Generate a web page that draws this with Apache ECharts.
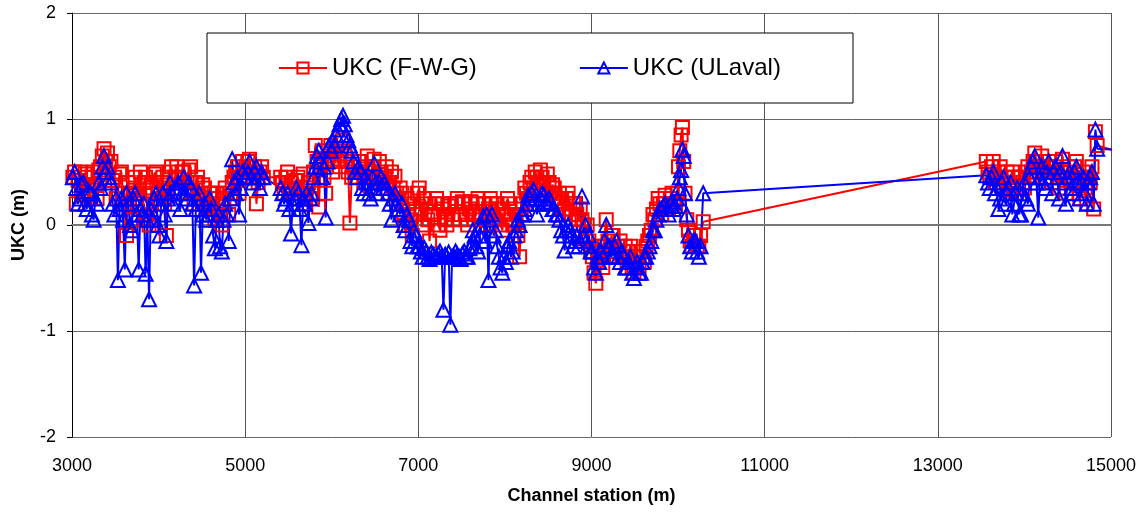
<!DOCTYPE html>
<html>
<head>
<meta charset="utf-8">
<script src="https://cdn.jsdelivr.net/npm/echarts@6/dist/echarts.min.js"></script>
<style>
html,body{margin:0;padding:0;background:#fff;}
#container{width:1146px;height:512px;}
</style>
</head>
<body>
<div id="container"></div>
<script>
// channel stations (m)
var stations = [
    3010,3030,3050,3070,3090,3110,3130,3150,3170,3190,3210,3230,3250,3270,3290,3310,3330,3350,3370,3390,
    3410,3430,3450,3470,3490,3510,3530,3550,3570,3590,3610,3630,3650,3670,3690,3710,3730,3750,3770,3790,
    3810,3830,3850,3870,3890,3910,3930,3950,3970,3990,4010,4030,4050,4070,4090,4110,4130,4150,4170,4190,
    4210,4230,4250,4270,4290,4310,4330,4350,4370,4390,4410,4430,4450,4470,4490,4510,4530,4550,4570,4590,
    4610,4630,4650,4670,4690,4710,4730,4750,4770,4790,4810,4830,4850,4870,4890,4910,4930,4950,4970,4990,
    5010,5030,5050,5070,5090,5110,5130,5150,5170,5190,5210,
    5410,5430,5450,5470,5490,5510,5530,5550,5570,5590,5610,5630,5650,5670,5690,5710,5730,5750,5770,5790,
    5810,5830,5850,5870,5890,5910,5930,5950,5970,5990,6010,6030,6050,6070,6090,6110,6130,6150,6170,6190,
    6210,6230,6250,6270,6290,6310,6330,6350,6370,6390,6410,6430,6450,6470,6490,6510,6530,6550,6570,6590,
    6610,6630,6650,6670,6690,6710,6730,6750,6770,6790,6810,6830,6850,6870,6890,6910,6930,6950,6970,6990,
    7010,7030,7050,7070,7090,7110,7130,7150,7170,7190,7210,7230,7250,7270,7290,7310,7330,7350,7370,7390,
    7410,7430,7450,7470,7490,7510,7530,7550,7570,7590,7610,7630,7650,7670,7690,7710,7730,7750,7770,7790,
    7810,7830,7850,7870,7890,7910,7930,7950,7970,7990,8010,8030,8050,8070,8090,8110,8130,8150,8170,8190,
    8210,8230,8250,8270,8290,8310,8330,8350,8370,8390,8410,8430,8450,8470,8490,8510,8530,8550,8570,8590,
    8610,8630,8650,8670,8690,8710,8730,8750,8770,8790,8810,8830,8850,8870,8890,8910,8930,8950,8970,8990,
    9010,9030,9050,9070,9090,9110,9130,9150,9170,9190,9210,9230,9250,9270,9290,9310,9330,9350,9370,9390,
    9410,9430,9450,9470,9490,9510,9530,9550,9570,9590,9610,9630,9650,9670,9690,9710,9730,9750,9770,9790,
    9810,9830,9850,9870,9890,9910,9930,9950,9970,9990,10005,10020,10035,10050,10065,10080,10100,10120,10140,10160,
    10180,10200,10220,10240,10260,10290,
    13560,13580,13600,13620,13640,13660,13680,13700,13720,13740,13760,13780,13800,13820,13840,13860,13880,13900,13920,13940,
    13960,13980,14000,14020,14040,14060,14080,14100,14120,14140,14160,14180,14200,14220,14240,14260,14280,14300,14320,14340,
    14360,14380,14400,14420,14440,14460,14480,14500,14520,14540,14560,14580,14600,14620,14640,14660,14680,14700,14720,14740,
    14760,14780,14800,14820,14840,15090
];

// UKC (F-W-G), m
var ukcFwg = [
    0.45,0.5,0.2,0.42,0.5,0.3,0.35,0.48,0.45,0.28,0.3,0.45,0.5,0.38,0.25,0.52,0.55,0.65,0.72,0.6,
    0.68,0.55,0.6,0.42,0.45,0.25,0.3,0.48,0.5,0.3,0.2,-0.1,0.4,0.3,0.05,0.35,0.45,0.25,0.3,0.5,
    0.2,0.4,0.45,0.1,0.0,0.3,0.35,0.48,0.5,0.3,0.25,0.4,0.45,0.2,-0.1,0.35,0.5,0.55,0.35,0.45,
    0.55,0.45,0.3,0.5,0.5,0.35,0.4,0.52,0.55,0.3,0.2,0.4,0.45,0.25,0.3,0.38,0.35,0.2,0.15,0.3,
    0.3,0.2,0.05,0.3,0.25,0.1,0.0,0.2,0.35,0.3,0.1,0.25,0.4,0.45,0.5,0.55,0.3,0.45,0.6,0.5,
    0.55,0.6,0.62,0.5,0.45,0.55,0.2,0.4,0.5,0.55,0.45,
    0.45,0.4,0.3,0.45,0.5,0.35,0.4,0.3,0.25,0.42,0.45,0.3,0.35,0.48,0.2,0.35,0.4,0.25,0.3,0.5,
    0.75,0.6,0.17,0.55,0.7,0.45,0.3,0.6,0.65,0.75,0.5,0.62,0.72,0.6,0.55,0.7,0.8,0.65,0.6,0.5,
    0.02,0.45,0.55,0.5,0.45,0.6,0.6,0.5,0.4,0.55,0.65,0.5,0.35,0.55,0.62,0.45,0.45,0.6,0.5,0.4,
    0.45,0.55,0.3,0.4,0.5,0.35,0.46,0.3,0.25,0.35,0.3,0.1,0.0,0.25,0.2,0.05,-0.1,0.1,0.15,0.3,
    0.35,0.15,0.0,0.25,0.2,0.05,-0.15,0.1,0.1,0.2,0.25,0.0,-0.05,0.2,0.15,0.05,0.0,0.18,0.2,0.1,
    0.05,0.2,0.25,0.1,0.1,0.22,0.2,0.05,0.0,0.15,0.22,0.12,0.1,0.2,0.25,0.1,0.05,0.2,0.2,0.0,
    0.15,0.25,0.2,0.1,0.05,0.2,0.15,0.0,-0.05,0.1,0.1,0.25,0.2,0.05,0.0,0.15,0.1,-0.1,-0.3,0.1,
    0.2,0.35,0.3,0.25,0.4,0.45,0.35,0.5,0.45,0.4,0.52,0.45,0.4,0.3,0.48,0.4,0.3,0.38,0.35,0.25,
    0.25,0.3,0.2,0.1,0.15,0.25,0.3,0.15,0.1,0.2,0.2,0.1,0.05,0.15,0.05,0.0,-0.12,0.0,-0.15,-0.25,
    -0.3,-0.45,-0.55,-0.35,-0.2,-0.3,-0.4,-0.2,0.05,-0.15,-0.25,-0.1,-0.1,-0.3,-0.3,-0.2,-0.15,-0.3,-0.25,-0.2,
    -0.35,-0.25,-0.2,-0.4,-0.45,-0.3,-0.3,-0.4,-0.25,-0.3,-0.35,-0.2,-0.15,-0.1,-0.05,0.1,0.05,0.15,0.25,0.2,
    0.1,0.2,0.28,0.15,0.15,0.25,0.3,0.2,0.2,0.3,0.55,0.7,0.85,0.92,0.6,0.3,0.05,-0.05,-0.15,-0.2,
    -0.1,-0.1,-0.2,-0.2,-0.1,0.03,
    0.6,0.5,0.45,0.55,0.6,0.4,0.45,0.5,0.55,0.35,0.4,0.45,0.5,0.38,0.33,0.5,0.45,0.3,0.35,0.45,
    0.45,0.4,0.35,0.5,0.55,0.45,0.5,0.6,0.68,0.6,0.55,0.5,0.65,0.55,0.45,0.55,0.6,0.5,0.4,0.55,
    0.6,0.5,0.35,0.5,0.62,0.45,0.3,0.5,0.55,0.4,0.45,0.55,0.6,0.4,0.25,0.45,0.5,0.35,0.2,0.45,
    0.4,0.55,0.15,0.88,0.75,0.69
];

// UKC (ULaval), m
var ukcUlaval = [
    0.45,0.5,0.35,0.2,0.25,0.38,0.4,0.2,0.15,0.32,0.3,0.1,0.05,0.25,0.2,0.4,0.35,0.55,0.65,0.5,
    0.55,0.45,0.4,0.2,0.1,0.25,-0.52,0.15,0.25,0.05,-0.42,0.3,0.2,0.0,-0.05,0.25,0.3,0.1,-0.42,0.15,
    0.1,0.2,-0.46,0.05,-0.7,0.15,0.05,0.25,0.3,0.0,-0.1,0.2,0.3,0.1,-0.15,0.25,0.4,0.3,0.2,0.35,
    0.35,0.4,0.15,0.3,0.45,0.3,0.25,0.4,0.35,0.2,-0.57,0.15,0.25,0.3,-0.45,0.1,0.2,0.05,0.1,0.25,
    0.15,-0.1,-0.22,0.05,0.1,-0.2,-0.25,0.05,0.2,0.1,-0.15,0.25,0.62,0.4,0.3,0.45,0.1,0.35,0.5,0.45,
    0.45,0.5,0.6,0.45,0.4,0.5,0.55,0.45,0.35,0.5,0.45,
    0.35,0.3,0.2,0.25,0.3,0.15,-0.08,0.2,0.25,0.35,0.3,0.15,-0.19,0.25,0.2,0.3,0.02,0.25,0.3,0.45,
    0.55,0.65,0.7,0.6,0.45,0.55,0.07,0.6,0.75,0.7,0.8,0.75,0.85,0.9,0.95,1.0,1.03,0.95,0.85,0.8,
    0.75,0.7,0.6,0.5,0.45,0.55,0.5,0.35,0.3,0.45,0.4,0.3,0.25,0.45,0.58,0.4,0.3,0.4,0.45,0.35,
    0.4,0.35,0.3,0.2,0.05,0.25,0.3,0.2,0.15,0.1,0.2,0.0,-0.05,0.1,0.05,-0.15,-0.2,-0.05,-0.1,-0.2,
    -0.2,-0.25,-0.3,-0.22,-0.25,-0.3,-0.32,-0.26,-0.28,-0.3,-0.3,-0.27,-0.25,-0.3,-0.8,-0.28,-0.3,-0.26,-0.94,-0.3,
    -0.3,-0.25,-0.28,-0.3,-0.32,-0.27,-0.25,-0.3,-0.3,-0.22,-0.2,-0.05,-0.1,-0.2,-0.25,-0.1,0.0,0.08,-0.15,0.1,
    -0.52,0.05,0.1,-0.1,-0.05,-0.2,-0.3,-0.4,-0.45,-0.3,-0.35,-0.2,-0.15,-0.3,-0.25,-0.1,-0.05,0.05,0.0,0.1,
    0.1,0.15,0.2,0.28,0.25,0.3,0.33,0.25,0.1,0.2,0.25,0.3,0.28,0.22,0.2,0.25,0.22,0.15,0.15,0.1,
    0.1,0.05,-0.05,-0.1,-0.24,-0.05,0.0,-0.05,-0.1,-0.2,-0.15,-0.1,-0.2,-0.15,0.27,-0.1,0.0,-0.2,-0.1,-0.25,
    -0.25,-0.4,-0.45,-0.3,-0.35,-0.25,-0.3,-0.15,0.0,-0.2,-0.2,-0.3,-0.3,-0.2,-0.15,-0.3,-0.35,-0.25,-0.3,-0.4,
    -0.4,-0.35,-0.3,-0.45,-0.5,-0.4,-0.35,-0.45,-0.45,-0.35,-0.3,-0.3,-0.25,-0.2,-0.15,-0.05,-0.05,0.05,0.1,0.15,
    0.15,0.18,0.2,0.15,0.1,0.2,0.22,0.15,0.18,0.25,0.35,0.45,0.52,0.71,0.65,0.3,0.1,-0.1,-0.2,-0.25,
    -0.15,-0.15,-0.25,-0.3,-0.2,0.3,
    0.47,0.4,0.35,0.45,0.5,0.3,0.35,0.15,0.25,0.4,0.45,0.2,0.3,0.35,0.4,0.1,0.2,0.3,0.35,0.1,
    0.1,0.3,0.4,0.25,0.2,0.45,0.55,0.6,0.65,0.4,0.07,0.45,0.55,0.4,0.35,0.5,0.6,0.45,0.3,0.5,
    0.55,0.45,0.25,0.5,0.65,0.4,0.2,0.45,0.5,0.35,0.3,0.5,0.55,0.4,0.25,0.4,0.45,0.3,0.2,0.4,
    0.45,0.5,0.2,0.9,0.72,0.71
];

var seriesNames = ['UKC (F-W-G)', 'UKC (ULaval)'];

function pairs(vals){
    return stations.map(function(s, i){
        // last point lies past the axis end: line only, no marker
        if (s > 15000) return {value: [s, vals[i]], symbol: 'none'};
        return [s, vals[i]];
    });
}

var font = 'Liberation Sans, Arial, sans-serif';
var myChart = echarts.init(document.getElementById('container'));

var option = {
    animation: false,
    backgroundColor: '#fff',
    grid: {left: 72, right: 35, top: 13, bottom: 75},
    graphic: [{
        type: 'rect',
        z: 50,
        shape: {x: 207, y: 33, width: 646, height: 70},
        style: {fill: '#fff', stroke: '#000', lineWidth: 1}
    }],
    legend: {
        z: 60,
        left: 278,
        top: 56,
        padding: 0,
        itemWidth: 48,
        itemHeight: 14,
        itemGap: 102,
        textStyle: {fontFamily: font, fontSize: 24, color: '#000'},
        data: seriesNames
    },
    xAxis: {
        type: 'value',
        min: 3000,
        max: 15000,
        interval: 2000,
        name: 'Channel station (m)',
        nameLocation: 'middle',
        nameGap: 50,
        nameTextStyle: {fontFamily: font, fontSize: 18, fontWeight: 'bold', color: '#000'},
        axisLine: {lineStyle: {color: '#777', width: 2}},
        axisTick: {show: false},
        axisLabel: {fontFamily: font, fontSize: 18, color: '#000', margin: 20,
            formatter: function(v){ return String(v); }},
        splitLine: {lineStyle: {color: '#555', width: 1}}
    },
    yAxis: {
        type: 'value',
        min: -2,
        max: 2,
        interval: 1,
        name: 'UKC (m)',
        nameLocation: 'middle',
        nameGap: 44,
        nameTextStyle: {fontFamily: font, fontSize: 18, fontWeight: 'bold', color: '#000'},
        axisLine: {show: true, lineStyle: {color: '#000', width: 1}},
        axisTick: {show: true, length: 5, lineStyle: {color: '#000'}},
        axisLabel: {fontFamily: font, fontSize: 18, color: '#000', margin: 16},
        splitLine: {lineStyle: {color: '#666', width: 1}}
    },
    series: [{
        name: seriesNames[0],
        type: 'line',
        clip: false,
        symbol: 'rect',
        symbolSize: 13,
        itemStyle: {color: 'rgba(0,0,0,0)', borderColor: '#ff0000', borderWidth: 2},
        lineStyle: {color: '#ff0000', width: 2},
        data: pairs(ukcFwg)
    }, {
        name: seriesNames[1],
        type: 'line',
        clip: false,
        symbol: 'triangle',
        symbolSize: 14,
        itemStyle: {color: 'rgba(0,0,0,0)', borderColor: '#0000ff', borderWidth: 2},
        lineStyle: {color: '#0000ff', width: 2},
        data: pairs(ukcUlaval)
    }]
};
myChart.setOption(option, true);
</script>
</body>
</html>
